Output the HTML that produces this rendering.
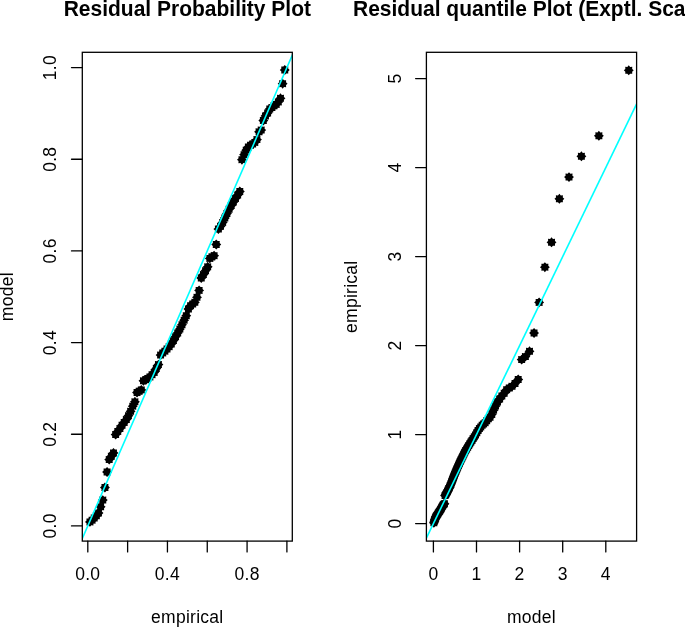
<!DOCTYPE html>
<html><head><meta charset="utf-8"><title>Residual plots</title>
<style>
html,body{margin:0;padding:0;background:#fff;}
body{width:685px;height:627px;overflow:hidden;}
svg{display:block;}
text{font-family:"Liberation Sans",sans-serif;fill:#000;}
.t{font-size:21px;font-weight:bold;text-anchor:middle;}
.a{font-size:17.5px;text-anchor:middle;letter-spacing:0.27px;}
.ax{stroke:#000;stroke-width:1.3;fill:none;stroke-linecap:round;}
.cy{stroke:#00ffff;stroke-width:1.6;fill:none;}
</style></head><body>
<svg width="685" height="627" viewBox="0 0 685 627">
<rect x="0" y="0" width="685" height="627" fill="#fff"/>

<text class="t" transform="translate(187.3,15.6) scale(1,1.075)">Residual Probability Plot</text>
<g fill="#000">
<polygon points="89.94,516.95 91.36,518.48 93.44,518.40 93.36,520.48 94.89,521.90 93.36,523.32 93.44,525.40 91.36,525.32 89.94,526.85 88.52,525.32 86.44,525.40 86.52,523.32 84.99,521.90 86.52,520.48 86.44,518.40 88.52,518.48"/>
<polygon points="92.08,515.25 93.50,516.78 95.58,516.70 95.50,518.78 97.03,520.20 95.50,521.62 95.58,523.70 93.50,523.62 92.08,525.15 90.67,523.62 88.58,523.70 88.66,521.62 87.13,520.20 88.66,518.78 88.58,516.70 90.67,516.78"/>
<polygon points="94.22,513.05 95.64,514.58 97.72,514.50 97.64,516.58 99.17,518.00 97.64,519.42 97.72,521.50 95.64,521.42 94.22,522.95 92.81,521.42 90.72,521.50 90.80,519.42 89.27,518.00 90.80,516.58 90.72,514.50 92.81,514.58"/>
<polygon points="96.36,510.85 97.78,512.38 99.86,512.30 99.78,514.38 101.31,515.80 99.78,517.22 99.86,519.30 97.78,519.22 96.36,520.75 94.95,519.22 92.86,519.30 92.95,517.22 91.41,515.80 92.95,514.38 92.86,512.30 94.95,512.38"/>
<polygon points="98.50,508.05 99.92,509.58 102.00,509.50 101.92,511.58 103.45,513.00 101.92,514.42 102.00,516.50 99.92,516.42 98.50,517.95 97.09,516.42 95.00,516.50 95.09,514.42 93.55,513.00 95.09,511.58 95.00,509.50 97.09,509.58"/>
<polygon points="100.65,501.85 102.06,503.38 104.15,503.30 104.06,505.38 105.60,506.80 104.06,508.22 104.15,510.30 102.06,510.22 100.65,511.75 99.23,510.22 97.14,510.30 97.23,508.22 95.70,506.80 97.23,505.38 97.14,503.30 99.23,503.38"/>
<polygon points="102.79,495.15 104.20,496.68 106.29,496.60 106.20,498.68 107.74,500.10 106.20,501.52 106.29,503.60 104.20,503.52 102.79,505.05 101.37,503.52 99.29,503.60 99.37,501.52 97.84,500.10 99.37,498.68 99.29,496.60 101.37,496.68"/>
<polygon points="104.93,482.55 106.34,484.08 108.43,484.00 108.35,486.08 109.88,487.50 108.35,488.92 108.43,491.00 106.34,490.92 104.93,492.45 103.51,490.92 101.43,491.00 101.51,488.92 99.98,487.50 101.51,486.08 101.43,484.00 103.51,484.08"/>
<polygon points="107.07,467.05 108.48,468.58 110.57,468.50 110.49,470.58 112.02,472.00 110.49,473.42 110.57,475.50 108.48,475.42 107.07,476.95 105.65,475.42 103.57,475.50 103.65,473.42 102.12,472.00 103.65,470.58 103.57,468.50 105.65,468.58"/>
<polygon points="109.21,454.65 110.62,456.18 112.71,456.10 112.63,458.18 114.16,459.60 112.63,461.02 112.71,463.10 110.62,463.02 109.21,464.55 107.79,463.02 105.71,463.10 105.79,461.02 104.26,459.60 105.79,458.18 105.71,456.10 107.79,456.18"/>
<polygon points="111.35,451.35 112.77,452.88 114.85,452.80 114.77,454.88 116.30,456.30 114.77,457.72 114.85,459.80 112.77,459.72 111.35,461.25 109.93,459.72 107.85,459.80 107.93,457.72 106.40,456.30 107.93,454.88 107.85,452.80 109.93,452.88"/>
<polygon points="113.49,447.95 114.91,449.48 116.99,449.40 116.91,451.48 118.44,452.90 116.91,454.32 116.99,456.40 114.91,456.32 113.49,457.85 112.07,456.32 109.99,456.40 110.07,454.32 108.54,452.90 110.07,451.48 109.99,449.40 112.07,449.48"/>
<polygon points="115.63,429.65 117.05,431.18 119.13,431.10 119.05,433.18 120.58,434.60 119.05,436.02 119.13,438.10 117.05,438.02 115.63,439.55 114.22,438.02 112.13,438.10 112.21,436.02 110.68,434.60 112.21,433.18 112.13,431.10 114.22,431.18"/>
<polygon points="117.77,426.45 119.19,427.98 121.27,427.90 121.19,429.98 122.72,431.40 121.19,432.82 121.27,434.90 119.19,434.82 117.77,436.35 116.36,434.82 114.27,434.90 114.35,432.82 112.82,431.40 114.35,429.98 114.27,427.90 116.36,427.98"/>
<polygon points="119.91,423.65 121.33,425.18 123.41,425.10 123.33,427.18 124.86,428.60 123.33,430.02 123.41,432.10 121.33,432.02 119.91,433.55 118.50,432.02 116.41,432.10 116.49,430.02 114.96,428.60 116.49,427.18 116.41,425.10 118.50,425.18"/>
<polygon points="122.05,420.25 123.47,421.78 125.55,421.70 125.47,423.78 127.00,425.20 125.47,426.62 125.55,428.70 123.47,428.62 122.05,430.15 120.64,428.62 118.55,428.70 118.64,426.62 117.10,425.20 118.64,423.78 118.55,421.70 120.64,421.78"/>
<polygon points="124.19,417.45 125.61,418.98 127.69,418.90 127.61,420.98 129.14,422.40 127.61,423.82 127.69,425.90 125.61,425.82 124.19,427.35 122.78,425.82 120.69,425.90 120.78,423.82 119.24,422.40 120.78,420.98 120.69,418.90 122.78,418.98"/>
<polygon points="126.34,414.65 127.75,416.18 129.84,416.10 129.75,418.18 131.29,419.60 129.75,421.02 129.84,423.10 127.75,423.02 126.34,424.55 124.92,423.02 122.84,423.10 122.92,421.02 121.39,419.60 122.92,418.18 122.84,416.10 124.92,416.18"/>
<polygon points="128.48,410.75 129.89,412.28 131.98,412.20 131.89,414.28 133.43,415.70 131.89,417.12 131.98,419.20 129.89,419.12 128.48,420.65 127.06,419.12 124.98,419.20 125.06,417.12 123.53,415.70 125.06,414.28 124.98,412.20 127.06,412.28"/>
<polygon points="130.62,406.35 132.03,407.88 134.12,407.80 134.04,409.88 135.57,411.30 134.04,412.72 134.12,414.80 132.03,414.72 130.62,416.25 129.20,414.72 127.12,414.80 127.20,412.72 125.67,411.30 127.20,409.88 127.12,407.80 129.20,407.88"/>
<polygon points="132.76,401.25 134.17,402.78 136.26,402.70 136.18,404.78 137.71,406.20 136.18,407.62 136.26,409.70 134.17,409.62 132.76,411.15 131.34,409.62 129.26,409.70 129.34,407.62 127.81,406.20 129.34,404.78 129.26,402.70 131.34,402.78"/>
<polygon points="134.90,396.85 136.31,398.38 138.40,398.30 138.32,400.38 139.85,401.80 138.32,403.22 138.40,405.30 136.31,405.22 134.90,406.75 133.48,405.22 131.40,405.30 131.48,403.22 129.95,401.80 131.48,400.38 131.40,398.30 133.48,398.38"/>
<polygon points="137.04,387.55 138.46,389.08 140.54,389.00 140.46,391.08 141.99,392.50 140.46,393.92 140.54,396.00 138.46,395.92 137.04,397.45 135.62,395.92 133.54,396.00 133.62,393.92 132.09,392.50 133.62,391.08 133.54,389.00 135.62,389.08"/>
<polygon points="139.18,386.25 140.60,387.78 142.68,387.70 142.60,389.78 144.13,391.20 142.60,392.62 142.68,394.70 140.60,394.62 139.18,396.15 137.76,394.62 135.68,394.70 135.76,392.62 134.23,391.20 135.76,389.78 135.68,387.70 137.76,387.78"/>
<polygon points="141.32,384.95 142.74,386.48 144.82,386.40 144.74,388.48 146.27,389.90 144.74,391.32 144.82,393.40 142.74,393.32 141.32,394.85 139.91,393.32 137.82,393.40 137.90,391.32 136.37,389.90 137.90,388.48 137.82,386.40 139.91,386.48"/>
<polygon points="143.46,375.85 144.88,377.38 146.96,377.30 146.88,379.38 148.41,380.80 146.88,382.22 146.96,384.30 144.88,384.22 143.46,385.75 142.05,384.22 139.96,384.30 140.04,382.22 138.51,380.80 140.04,379.38 139.96,377.30 142.05,377.38"/>
<polygon points="145.60,374.75 147.02,376.28 149.10,376.20 149.02,378.28 150.55,379.70 149.02,381.12 149.10,383.20 147.02,383.12 145.60,384.65 144.19,383.12 142.10,383.20 142.18,381.12 140.65,379.70 142.18,378.28 142.10,376.20 144.19,376.28"/>
<polygon points="147.74,373.65 149.16,375.18 151.24,375.10 151.16,377.18 152.69,378.60 151.16,380.02 151.24,382.10 149.16,382.02 147.74,383.55 146.33,382.02 144.24,382.10 144.33,380.02 142.79,378.60 144.33,377.18 144.24,375.10 146.33,375.18"/>
<polygon points="149.88,371.95 151.30,373.48 153.39,373.40 153.30,375.48 154.83,376.90 153.30,378.32 153.39,380.40 151.30,380.32 149.88,381.85 148.47,380.32 146.38,380.40 146.47,378.32 144.93,376.90 146.47,375.48 146.38,373.40 148.47,373.48"/>
<polygon points="152.03,369.75 153.44,371.28 155.53,371.20 155.44,373.28 156.98,374.70 155.44,376.12 155.53,378.20 153.44,378.12 152.03,379.65 150.61,378.12 148.53,378.20 148.61,376.12 147.08,374.70 148.61,373.28 148.53,371.20 150.61,371.28"/>
<polygon points="154.17,367.45 155.58,368.98 157.67,368.90 157.59,370.98 159.12,372.40 157.59,373.82 157.67,375.90 155.58,375.82 154.17,377.35 152.75,375.82 150.67,375.90 150.75,373.82 149.22,372.40 150.75,370.98 150.67,368.90 152.75,368.98"/>
<polygon points="156.31,363.55 157.72,365.08 159.81,365.00 159.73,367.08 161.26,368.50 159.73,369.92 159.81,372.00 157.72,371.92 156.31,373.45 154.89,371.92 152.81,372.00 152.89,369.92 151.36,368.50 152.89,367.08 152.81,365.00 154.89,365.08"/>
<polygon points="158.45,359.65 159.86,361.18 161.95,361.10 161.87,363.18 163.40,364.60 161.87,366.02 161.95,368.10 159.86,368.02 158.45,369.55 157.03,368.02 154.95,368.10 155.03,366.02 153.50,364.60 155.03,363.18 154.95,361.10 157.03,361.18"/>
<polygon points="160.59,350.15 162.01,351.68 164.09,351.60 164.01,353.68 165.54,355.10 164.01,356.52 164.09,358.60 162.01,358.52 160.59,360.05 159.17,358.52 157.09,358.60 157.17,356.52 155.64,355.10 157.17,353.68 157.09,351.60 159.17,351.68"/>
<polygon points="162.73,347.95 164.15,349.48 166.23,349.40 166.15,351.48 167.68,352.90 166.15,354.32 166.23,356.40 164.15,356.32 162.73,357.85 161.31,356.32 159.23,356.40 159.31,354.32 157.78,352.90 159.31,351.48 159.23,349.40 161.31,349.48"/>
<polygon points="164.87,346.25 166.29,347.78 168.37,347.70 168.29,349.78 169.82,351.20 168.29,352.62 168.37,354.70 166.29,354.62 164.87,356.15 163.46,354.62 161.37,354.70 161.45,352.62 159.92,351.20 161.45,349.78 161.37,347.70 163.46,347.78"/>
<polygon points="167.01,344.05 168.43,345.58 170.51,345.50 170.43,347.58 171.96,349.00 170.43,350.42 170.51,352.50 168.43,352.42 167.01,353.95 165.60,352.42 163.51,352.50 163.59,350.42 162.06,349.00 163.59,347.58 163.51,345.50 165.60,345.58"/>
<polygon points="169.15,341.75 170.57,343.28 172.65,343.20 172.57,345.28 174.10,346.70 172.57,348.12 172.65,350.20 170.57,350.12 169.15,351.65 167.74,350.12 165.65,350.20 165.73,348.12 164.20,346.70 165.73,345.28 165.65,343.20 167.74,343.28"/>
<polygon points="171.29,339.05 172.71,340.58 174.79,340.50 174.71,342.58 176.24,344.00 174.71,345.42 174.79,347.50 172.71,347.42 171.29,348.95 169.88,347.42 167.79,347.50 167.88,345.42 166.34,344.00 167.88,342.58 167.79,340.50 169.88,340.58"/>
<polygon points="173.43,335.65 174.85,337.18 176.93,337.10 176.85,339.18 178.38,340.60 176.85,342.02 176.93,344.10 174.85,344.02 173.43,345.55 172.02,344.02 169.93,344.10 170.02,342.02 168.48,340.60 170.02,339.18 169.93,337.10 172.02,337.18"/>
<polygon points="175.58,331.75 176.99,333.28 179.08,333.20 178.99,335.28 180.53,336.70 178.99,338.12 179.08,340.20 176.99,340.12 175.58,341.65 174.16,340.12 172.08,340.20 172.16,338.12 170.63,336.70 172.16,335.28 172.08,333.20 174.16,333.28"/>
<polygon points="177.72,327.95 179.13,329.48 181.22,329.40 181.13,331.48 182.67,332.90 181.13,334.32 181.22,336.40 179.13,336.32 177.72,337.85 176.30,336.32 174.22,336.40 174.30,334.32 172.77,332.90 174.30,331.48 174.22,329.40 176.30,329.48"/>
<polygon points="179.86,324.15 181.27,325.68 183.36,325.60 183.28,327.68 184.81,329.10 183.28,330.52 183.36,332.60 181.27,332.52 179.86,334.05 178.44,332.52 176.36,332.60 176.44,330.52 174.91,329.10 176.44,327.68 176.36,325.60 178.44,325.68"/>
<polygon points="182.00,319.75 183.41,321.28 185.50,321.20 185.42,323.28 186.95,324.70 185.42,326.12 185.50,328.20 183.41,328.12 182.00,329.65 180.58,328.12 178.50,328.20 178.58,326.12 177.05,324.70 178.58,323.28 178.50,321.20 180.58,321.28"/>
<polygon points="184.14,315.25 185.55,316.78 187.64,316.70 187.56,318.78 189.09,320.20 187.56,321.62 187.64,323.70 185.55,323.62 184.14,325.15 182.72,323.62 180.64,323.70 180.72,321.62 179.19,320.20 180.72,318.78 180.64,316.70 182.72,316.78"/>
<polygon points="186.28,310.75 187.70,312.28 189.78,312.20 189.70,314.28 191.23,315.70 189.70,317.12 189.78,319.20 187.70,319.12 186.28,320.65 184.86,319.12 182.78,319.20 182.86,317.12 181.33,315.70 182.86,314.28 182.78,312.20 184.86,312.28"/>
<polygon points="188.42,304.05 189.84,305.58 191.92,305.50 191.84,307.58 193.37,309.00 191.84,310.42 191.92,312.50 189.84,312.42 188.42,313.95 187.00,312.42 184.92,312.50 185.00,310.42 183.47,309.00 185.00,307.58 184.92,305.50 187.00,305.58"/>
<polygon points="190.56,300.75 191.98,302.28 194.06,302.20 193.98,304.28 195.51,305.70 193.98,307.12 194.06,309.20 191.98,309.12 190.56,310.65 189.15,309.12 187.06,309.20 187.14,307.12 185.61,305.70 187.14,304.28 187.06,302.20 189.15,302.28"/>
<polygon points="192.70,299.05 194.12,300.58 196.20,300.50 196.12,302.58 197.65,304.00 196.12,305.42 196.20,307.50 194.12,307.42 192.70,308.95 191.29,307.42 189.20,307.50 189.28,305.42 187.75,304.00 189.28,302.58 189.20,300.50 191.29,300.58"/>
<polygon points="194.84,297.35 196.26,298.88 198.34,298.80 198.26,300.88 199.79,302.30 198.26,303.72 198.34,305.80 196.26,305.72 194.84,307.25 193.43,305.72 191.34,305.80 191.42,303.72 189.89,302.30 191.42,300.88 191.34,298.80 193.43,298.88"/>
<polygon points="196.98,292.35 198.40,293.88 200.48,293.80 200.40,295.88 201.93,297.30 200.40,298.72 200.48,300.80 198.40,300.72 196.98,302.25 195.57,300.72 193.48,300.80 193.57,298.72 192.03,297.30 193.57,295.88 193.48,293.80 195.57,293.88"/>
<polygon points="199.12,285.45 200.54,286.98 202.62,286.90 202.54,288.98 204.07,290.40 202.54,291.82 202.62,293.90 200.54,293.82 199.12,295.35 197.71,293.82 195.62,293.90 195.71,291.82 194.17,290.40 195.71,288.98 195.62,286.90 197.71,286.98"/>
<polygon points="201.27,273.05 202.68,274.58 204.77,274.50 204.68,276.58 206.22,278.00 204.68,279.42 204.77,281.50 202.68,281.42 201.27,282.95 199.85,281.42 197.77,281.50 197.85,279.42 196.32,278.00 197.85,276.58 197.77,274.50 199.85,274.58"/>
<polygon points="203.41,269.65 204.82,271.18 206.91,271.10 206.82,273.18 208.36,274.60 206.82,276.02 206.91,278.10 204.82,278.02 203.41,279.55 201.99,278.02 199.91,278.10 199.99,276.02 198.46,274.60 199.99,273.18 199.91,271.10 201.99,271.18"/>
<polygon points="205.55,265.75 206.96,267.28 209.05,267.20 208.97,269.28 210.50,270.70 208.97,272.12 209.05,274.20 206.96,274.12 205.55,275.65 204.13,274.12 202.05,274.20 202.13,272.12 200.60,270.70 202.13,269.28 202.05,267.20 204.13,267.28"/>
<polygon points="207.69,261.85 209.10,263.38 211.19,263.30 211.11,265.38 212.64,266.80 211.11,268.22 211.19,270.30 209.10,270.22 207.69,271.75 206.27,270.22 204.19,270.30 204.27,268.22 202.74,266.80 204.27,265.38 204.19,263.30 206.27,263.38"/>
<polygon points="209.83,253.45 211.24,254.98 213.33,254.90 213.25,256.98 214.78,258.40 213.25,259.82 213.33,261.90 211.24,261.82 209.83,263.35 208.41,261.82 206.33,261.90 206.41,259.82 204.88,258.40 206.41,256.98 206.33,254.90 208.41,254.98"/>
<polygon points="211.97,251.85 213.39,253.38 215.47,253.30 215.39,255.38 216.92,256.80 215.39,258.22 215.47,260.30 213.39,260.22 211.97,261.75 210.55,260.22 208.47,260.30 208.55,258.22 207.02,256.80 208.55,255.38 208.47,253.30 210.55,253.38"/>
<polygon points="214.11,250.75 215.53,252.28 217.61,252.20 217.53,254.28 219.06,255.70 217.53,257.12 217.61,259.20 215.53,259.12 214.11,260.65 212.69,259.12 210.61,259.20 210.69,257.12 209.16,255.70 210.69,254.28 210.61,252.20 212.69,252.28"/>
<polygon points="216.25,239.55 217.67,241.08 219.75,241.00 219.67,243.08 221.20,244.50 219.67,245.92 219.75,248.00 217.67,247.92 216.25,249.45 214.84,247.92 212.75,248.00 212.83,245.92 211.30,244.50 212.83,243.08 212.75,241.00 214.84,241.08"/>
<polygon points="218.39,224.15 219.81,225.68 221.89,225.60 221.81,227.68 223.34,229.10 221.81,230.52 221.89,232.60 219.81,232.52 218.39,234.05 216.98,232.52 214.89,232.60 214.97,230.52 213.44,229.10 214.97,227.68 214.89,225.60 216.98,225.68"/>
<polygon points="220.53,221.35 221.95,222.88 224.03,222.80 223.95,224.88 225.48,226.30 223.95,227.72 224.03,229.80 221.95,229.72 220.53,231.25 219.12,229.72 217.03,229.80 217.11,227.72 215.58,226.30 217.11,224.88 217.03,222.80 219.12,222.88"/>
<polygon points="222.67,217.45 224.09,218.98 226.17,218.90 226.09,220.98 227.62,222.40 226.09,223.82 226.17,225.90 224.09,225.82 222.67,227.35 221.26,225.82 219.17,225.90 219.26,223.82 217.72,222.40 219.26,220.98 219.17,218.90 221.26,218.98"/>
<polygon points="224.82,213.05 226.23,214.58 228.32,214.50 228.23,216.58 229.77,218.00 228.23,219.42 228.32,221.50 226.23,221.42 224.82,222.95 223.40,221.42 221.31,221.50 221.40,219.42 219.87,218.00 221.40,216.58 221.31,214.50 223.40,214.58"/>
<polygon points="226.96,208.55 228.37,210.08 230.46,210.00 230.37,212.08 231.91,213.50 230.37,214.92 230.46,217.00 228.37,216.92 226.96,218.45 225.54,216.92 223.46,217.00 223.54,214.92 222.01,213.50 223.54,212.08 223.46,210.00 225.54,210.08"/>
<polygon points="229.10,204.35 230.51,205.88 232.60,205.80 232.52,207.88 234.05,209.30 232.52,210.72 232.60,212.80 230.51,212.72 229.10,214.25 227.68,212.72 225.60,212.80 225.68,210.72 224.15,209.30 225.68,207.88 225.60,205.80 227.68,205.88"/>
<polygon points="231.24,200.55 232.65,202.08 234.74,202.00 234.66,204.08 236.19,205.50 234.66,206.92 234.74,209.00 232.65,208.92 231.24,210.45 229.82,208.92 227.74,209.00 227.82,206.92 226.29,205.50 227.82,204.08 227.74,202.00 229.82,202.08"/>
<polygon points="233.38,197.05 234.79,198.58 236.88,198.50 236.80,200.58 238.33,202.00 236.80,203.42 236.88,205.50 234.79,205.42 233.38,206.95 231.96,205.42 229.88,205.50 229.96,203.42 228.43,202.00 229.96,200.58 229.88,198.50 231.96,198.58"/>
<polygon points="235.52,193.45 236.94,194.98 239.02,194.90 238.94,196.98 240.47,198.40 238.94,199.82 239.02,201.90 236.94,201.82 235.52,203.35 234.10,201.82 232.02,201.90 232.10,199.82 230.57,198.40 232.10,196.98 232.02,194.90 234.10,194.98"/>
<polygon points="237.66,190.15 239.08,191.68 241.16,191.60 241.08,193.68 242.61,195.10 241.08,196.52 241.16,198.60 239.08,198.52 237.66,200.05 236.24,198.52 234.16,198.60 234.24,196.52 232.71,195.10 234.24,193.68 234.16,191.60 236.24,191.68"/>
<polygon points="239.80,186.55 241.22,188.08 243.30,188.00 243.22,190.08 244.75,191.50 243.22,192.92 243.30,195.00 241.22,194.92 239.80,196.45 238.39,194.92 236.30,195.00 236.38,192.92 234.85,191.50 236.38,190.08 236.30,188.00 238.39,188.08"/>
<polygon points="241.94,154.75 243.36,156.28 245.44,156.20 245.36,158.28 246.89,159.70 245.36,161.12 245.44,163.20 243.36,163.12 241.94,164.65 240.53,163.12 238.44,163.20 238.52,161.12 236.99,159.70 238.52,158.28 238.44,156.20 240.53,156.28"/>
<polygon points="244.08,149.75 245.50,151.28 247.58,151.20 247.50,153.28 249.03,154.70 247.50,156.12 247.58,158.20 245.50,158.12 244.08,159.65 242.67,158.12 240.58,158.20 240.66,156.12 239.13,154.70 240.66,153.28 240.58,151.20 242.67,151.28"/>
<polygon points="246.22,145.25 247.64,146.78 249.72,146.70 249.64,148.78 251.17,150.20 249.64,151.62 249.72,153.70 247.64,153.62 246.22,155.15 244.81,153.62 242.72,153.70 242.81,151.62 241.27,150.20 242.81,148.78 242.72,146.70 244.81,146.78"/>
<polygon points="248.36,141.95 249.78,143.48 251.86,143.40 251.78,145.48 253.31,146.90 251.78,148.32 251.86,150.40 249.78,150.32 248.36,151.85 246.95,150.32 244.86,150.40 244.95,148.32 243.41,146.90 244.95,145.48 244.86,143.40 246.95,143.48"/>
<polygon points="250.51,140.25 251.92,141.78 254.01,141.70 253.92,143.78 255.46,145.20 253.92,146.62 254.01,148.70 251.92,148.62 250.51,150.15 249.09,148.62 247.01,148.70 247.09,146.62 245.56,145.20 247.09,143.78 247.01,141.70 249.09,141.78"/>
<polygon points="252.65,139.15 254.06,140.68 256.15,140.60 256.06,142.68 257.60,144.10 256.06,145.52 256.15,147.60 254.06,147.52 252.65,149.05 251.23,147.52 249.15,147.60 249.23,145.52 247.70,144.10 249.23,142.68 249.15,140.60 251.23,140.68"/>
<polygon points="254.79,137.45 256.20,138.98 258.29,138.90 258.21,140.98 259.74,142.40 258.21,143.82 258.29,145.90 256.20,145.82 254.79,147.35 253.37,145.82 251.29,145.90 251.37,143.82 249.84,142.40 251.37,140.98 251.29,138.90 253.37,138.98"/>
<polygon points="256.93,134.65 258.34,136.18 260.43,136.10 260.35,138.18 261.88,139.60 260.35,141.02 260.43,143.10 258.34,143.02 256.93,144.55 255.51,143.02 253.43,143.10 253.51,141.02 251.98,139.60 253.51,138.18 253.43,136.10 255.51,136.18"/>
<polygon points="259.07,126.85 260.48,128.38 262.57,128.30 262.49,130.38 264.02,131.80 262.49,133.22 262.57,135.30 260.48,135.22 259.07,136.75 257.65,135.22 255.57,135.30 255.65,133.22 254.12,131.80 255.65,130.38 255.57,128.30 257.65,128.38"/>
<polygon points="261.21,125.15 262.63,126.68 264.71,126.60 264.63,128.68 266.16,130.10 264.63,131.52 264.71,133.60 262.63,133.52 261.21,135.05 259.79,133.52 257.71,133.60 257.79,131.52 256.26,130.10 257.79,128.68 257.71,126.60 259.79,126.68"/>
<polygon points="263.35,115.55 264.77,117.08 266.85,117.00 266.77,119.08 268.30,120.50 266.77,121.92 266.85,124.00 264.77,123.92 263.35,125.45 261.93,123.92 259.85,124.00 259.93,121.92 258.40,120.50 259.93,119.08 259.85,117.00 261.93,117.08"/>
<polygon points="265.49,110.95 266.91,112.48 268.99,112.40 268.91,114.48 270.44,115.90 268.91,117.32 268.99,119.40 266.91,119.32 265.49,120.85 264.08,119.32 261.99,119.40 262.07,117.32 260.54,115.90 262.07,114.48 261.99,112.40 264.08,112.48"/>
<polygon points="267.63,108.05 269.05,109.58 271.13,109.50 271.05,111.58 272.58,113.00 271.05,114.42 271.13,116.50 269.05,116.42 267.63,117.95 266.22,116.42 264.13,116.50 264.21,114.42 262.68,113.00 264.21,111.58 264.13,109.50 266.22,109.58"/>
<polygon points="269.77,104.05 271.19,105.58 273.27,105.50 273.19,107.58 274.72,109.00 273.19,110.42 273.27,112.50 271.19,112.42 269.77,113.95 268.36,112.42 266.27,112.50 266.35,110.42 264.82,109.00 266.35,107.58 266.27,105.50 268.36,105.58"/>
<polygon points="271.91,102.65 273.33,104.18 275.41,104.10 275.33,106.18 276.86,107.60 275.33,109.02 275.41,111.10 273.33,111.02 271.91,112.55 270.50,111.02 268.41,111.10 268.50,109.02 266.96,107.60 268.50,106.18 268.41,104.10 270.50,104.18"/>
<polygon points="274.05,100.85 275.47,102.38 277.56,102.30 277.47,104.38 279.00,105.80 277.47,107.22 277.56,109.30 275.47,109.22 274.05,110.75 272.64,109.22 270.55,109.30 270.64,107.22 269.10,105.80 270.64,104.38 270.55,102.30 272.64,102.38"/>
<polygon points="276.20,99.45 277.61,100.98 279.70,100.90 279.61,102.98 281.15,104.40 279.61,105.82 279.70,107.90 277.61,107.82 276.20,109.35 274.78,107.82 272.70,107.90 272.78,105.82 271.25,104.40 272.78,102.98 272.70,100.90 274.78,100.98"/>
<polygon points="278.34,96.95 279.75,98.48 281.84,98.40 281.75,100.48 283.29,101.90 281.75,103.32 281.84,105.40 279.75,105.32 278.34,106.85 276.92,105.32 274.84,105.40 274.92,103.32 273.39,101.90 274.92,100.48 274.84,98.40 276.92,98.48"/>
<polygon points="280.48,93.35 281.89,94.88 283.98,94.80 283.90,96.88 285.43,98.30 283.90,99.72 283.98,101.80 281.89,101.72 280.48,103.25 279.06,101.72 276.98,101.80 277.06,99.72 275.53,98.30 277.06,96.88 276.98,94.80 279.06,94.88"/>
<polygon points="282.62,78.75 284.03,80.28 286.12,80.20 286.04,82.28 287.57,83.70 286.04,85.12 286.12,87.20 284.03,87.12 282.62,88.65 281.20,87.12 279.12,87.20 279.20,85.12 277.67,83.70 279.20,82.28 279.12,80.20 281.20,80.28"/>
<polygon points="284.76,65.05 286.18,66.58 288.26,66.50 288.18,68.58 289.71,70.00 288.18,71.42 288.26,73.50 286.18,73.42 284.76,74.95 283.34,73.42 281.26,73.50 281.34,71.42 279.81,70.00 281.34,68.58 281.26,66.50 283.34,66.58"/>
</g>
<clipPath id="cl"><rect x="82.3" y="52.3" width="210.0" height="488.8"/></clipPath>
<line class="cy" clip-path="url(#cl)" x1="67.89" y1="571.73" x2="306.81" y2="21.77"/>
<rect class="ax" x="82.3" y="52.3" width="210.0" height="488.8"/>
<line class="ax" x1="87.80" y1="541.1" x2="87.80" y2="551.9"/>
<text class="a" x="87.80" y="580.4">0.0</text>
<line class="ax" x1="127.62" y1="541.1" x2="127.62" y2="551.9"/>
<line class="ax" x1="167.44" y1="541.1" x2="167.44" y2="551.9"/>
<text class="a" x="167.44" y="580.4">0.4</text>
<line class="ax" x1="207.26" y1="541.1" x2="207.26" y2="551.9"/>
<line class="ax" x1="247.08" y1="541.1" x2="247.08" y2="551.9"/>
<text class="a" x="247.08" y="580.4">0.8</text>
<line class="ax" x1="286.90" y1="541.1" x2="286.90" y2="551.9"/>
<line class="ax" x1="82.3" y1="525.90" x2="71.5" y2="525.90"/>
<text class="a" transform="translate(56.4,525.90) rotate(-90)">0.0</text>
<line class="ax" x1="82.3" y1="434.24" x2="71.5" y2="434.24"/>
<text class="a" transform="translate(56.4,434.24) rotate(-90)">0.2</text>
<line class="ax" x1="82.3" y1="342.58" x2="71.5" y2="342.58"/>
<text class="a" transform="translate(56.4,342.58) rotate(-90)">0.4</text>
<line class="ax" x1="82.3" y1="250.92" x2="71.5" y2="250.92"/>
<text class="a" transform="translate(56.4,250.92) rotate(-90)">0.6</text>
<line class="ax" x1="82.3" y1="159.26" x2="71.5" y2="159.26"/>
<text class="a" transform="translate(56.4,159.26) rotate(-90)">0.8</text>
<line class="ax" x1="82.3" y1="67.60" x2="71.5" y2="67.60"/>
<text class="a" transform="translate(56.4,67.60) rotate(-90)">1.0</text>
<text class="a" x="187.3" y="622.9">empirical</text>
<text class="a" transform="translate(13.1,296.7) rotate(-90)">model</text>
<text class="t" transform="translate(531.5,15.6) scale(1,1.075)">Residual quantile Plot (Exptl. Scale)</text>
<g fill="#000">
<polygon points="433.87,517.85 435.28,519.38 437.37,519.30 437.28,521.38 438.82,522.80 437.28,524.21 437.37,526.30 435.28,526.22 433.87,527.75 432.45,526.22 430.37,526.30 430.45,524.21 428.92,522.80 430.45,521.38 430.37,519.30 432.45,519.38"/>
<polygon points="434.34,516.33 435.75,517.87 437.84,517.78 437.76,519.87 439.29,521.28 437.76,522.70 437.84,524.78 435.75,524.70 434.34,526.23 432.92,524.70 430.84,524.78 430.92,522.70 429.39,521.28 430.92,519.87 430.84,517.78 432.92,517.87"/>
<polygon points="434.81,514.80 436.23,516.34 438.31,516.25 438.23,518.34 439.76,519.75 438.23,521.17 438.31,523.25 436.23,523.17 434.81,524.70 433.40,523.17 431.31,523.25 431.39,521.17 429.86,519.75 431.39,518.34 431.31,516.25 433.40,516.34"/>
<polygon points="435.29,513.26 436.71,514.79 438.79,514.71 438.71,516.79 440.24,518.21 438.71,519.62 438.79,521.71 436.71,521.62 435.29,523.16 433.88,521.62 431.79,521.71 431.88,519.62 430.34,518.21 431.88,516.79 431.79,514.71 433.88,514.79"/>
<polygon points="435.78,512.07 437.20,513.60 439.28,513.52 439.20,515.60 440.73,517.02 439.20,518.43 439.28,520.52 437.20,520.44 435.78,521.97 434.37,520.44 432.28,520.52 432.36,518.43 430.83,517.02 432.36,515.60 432.28,513.52 434.37,513.60"/>
<polygon points="436.27,511.31 437.69,512.84 439.77,512.76 439.69,514.84 441.22,516.26 439.69,517.67 439.77,519.76 437.69,519.67 436.27,521.21 434.86,519.67 432.77,519.76 432.86,517.67 431.32,516.26 432.86,514.84 432.77,512.76 434.86,512.84"/>
<polygon points="436.77,510.53 438.19,512.07 440.27,511.98 440.19,514.07 441.72,515.48 440.19,516.90 440.27,518.98 438.19,518.90 436.77,520.43 435.36,518.90 433.27,518.98 433.35,516.90 431.82,515.48 433.35,514.07 433.27,511.98 435.36,512.07"/>
<polygon points="437.28,509.75 438.69,511.29 440.78,511.20 440.70,513.29 442.23,514.70 440.70,516.12 440.78,518.20 438.69,518.12 437.28,519.65 435.86,518.12 433.78,518.20 433.86,516.12 432.33,514.70 433.86,513.29 433.78,511.20 435.86,511.29"/>
<polygon points="437.79,508.96 439.20,510.50 441.29,510.41 441.21,512.50 442.74,513.91 441.21,515.33 441.29,517.41 439.20,517.33 437.79,518.86 436.37,517.33 434.29,517.41 434.37,515.33 432.84,513.91 434.37,512.50 434.29,510.41 436.37,510.50"/>
<polygon points="438.30,508.16 439.72,509.70 441.80,509.61 441.72,511.70 443.25,513.11 441.72,514.53 441.80,516.61 439.72,516.53 438.30,518.06 436.89,516.53 434.80,516.61 434.88,514.53 433.35,513.11 434.88,511.70 434.80,509.61 436.89,509.70"/>
<polygon points="438.83,507.35 440.24,508.89 442.33,508.80 442.24,510.89 443.78,512.30 442.24,513.72 442.33,515.81 440.24,515.72 438.83,517.25 437.41,515.72 435.33,515.81 435.41,513.72 433.88,512.30 435.41,510.89 435.33,508.80 437.41,508.89"/>
<polygon points="439.35,506.54 440.77,508.07 442.85,507.99 442.77,510.07 444.30,511.49 442.77,512.90 442.85,514.99 440.77,514.90 439.35,516.44 437.94,514.90 435.85,514.99 435.94,512.90 434.40,511.49 435.94,510.07 435.85,507.99 437.94,508.07"/>
<polygon points="439.89,505.71 441.31,507.24 443.39,507.16 443.31,509.24 444.84,510.66 443.31,512.07 443.39,514.16 441.31,514.08 439.89,515.61 438.47,514.08 436.39,514.16 436.47,512.07 434.94,510.66 436.47,509.24 436.39,507.16 438.47,507.24"/>
<polygon points="440.43,504.87 441.85,506.40 443.93,506.32 443.85,508.40 445.38,509.82 443.85,511.23 443.93,513.32 441.85,513.24 440.43,514.77 439.02,513.24 436.93,513.32 437.01,511.23 435.48,509.82 437.01,508.40 436.93,506.32 439.02,506.40"/>
<polygon points="440.98,503.99 442.40,505.52 444.48,505.44 444.40,507.52 445.93,508.94 444.40,510.35 444.48,512.44 442.40,512.36 440.98,513.89 439.56,512.36 437.48,512.44 437.56,510.35 436.03,508.94 437.56,507.52 437.48,505.44 439.56,505.52"/>
<polygon points="441.54,502.93 442.95,504.46 445.04,504.38 444.96,506.46 446.49,507.88 444.96,509.30 445.04,511.38 442.95,511.30 441.54,512.83 440.12,511.30 438.04,511.38 438.12,509.30 436.59,507.88 438.12,506.46 438.04,504.38 440.12,504.46"/>
<polygon points="442.10,501.86 443.52,503.39 445.60,503.31 445.52,505.39 447.05,506.81 445.52,508.22 445.60,510.31 443.52,510.23 442.10,511.76 440.68,510.23 438.60,510.31 438.68,508.22 437.15,506.81 438.68,505.39 438.60,503.31 440.68,503.39"/>
<polygon points="442.67,500.77 444.09,502.30 446.17,502.22 446.09,504.31 447.62,505.72 446.09,507.14 446.17,509.22 444.09,509.14 442.67,510.67 441.26,509.14 439.17,509.22 439.25,507.14 437.72,505.72 439.25,504.31 439.17,502.22 441.26,502.30"/>
<polygon points="443.25,499.82 444.67,501.35 446.75,501.27 446.67,503.35 448.20,504.77 446.67,506.18 446.75,508.27 444.67,508.19 443.25,509.72 441.83,508.19 439.75,508.27 439.83,506.18 438.30,504.77 439.83,503.35 439.75,501.27 441.83,501.35"/>
<polygon points="443.84,499.27 445.25,500.80 447.34,500.72 447.25,502.81 448.79,504.22 447.25,505.64 447.34,507.72 445.25,507.64 443.84,509.17 442.42,507.64 440.34,507.72 440.42,505.64 438.89,504.22 440.42,502.81 440.34,500.72 442.42,500.80"/>
<polygon points="444.43,498.72 445.85,500.25 447.93,500.17 447.85,502.25 449.38,503.67 447.85,505.08 447.93,507.17 445.85,507.09 444.43,508.62 443.01,507.09 440.93,507.17 441.01,505.08 439.48,503.67 441.01,502.25 440.93,500.17 443.01,500.25"/>
<polygon points="445.03,490.60 446.45,492.13 448.53,492.05 448.45,494.14 449.98,495.55 448.45,496.97 448.53,499.05 446.45,498.97 445.03,500.50 443.62,498.97 441.53,499.05 441.62,496.97 440.08,495.55 441.62,494.14 441.53,492.05 443.62,492.13"/>
<polygon points="445.64,489.74 447.06,491.27 449.15,491.19 449.06,493.28 450.59,494.69 449.06,496.11 449.15,498.19 447.06,498.11 445.64,499.64 444.23,498.11 442.14,498.19 442.23,496.11 440.69,494.69 442.23,493.28 442.14,491.19 444.23,491.27"/>
<polygon points="446.27,488.87 447.68,490.40 449.77,490.32 449.68,492.40 451.22,493.82 449.68,495.24 449.77,497.32 447.68,497.24 446.27,498.77 444.85,497.24 442.76,497.32 442.85,495.24 441.32,493.82 442.85,492.40 442.76,490.32 444.85,490.40"/>
<polygon points="446.89,487.66 448.31,489.19 450.39,489.11 450.31,491.19 451.84,492.61 450.31,494.03 450.39,496.11 448.31,496.03 446.89,497.56 445.48,496.03 443.39,496.11 443.48,494.03 441.94,492.61 443.48,491.19 443.39,489.11 445.48,489.19"/>
<polygon points="447.53,486.33 448.95,487.86 451.03,487.78 450.95,489.86 452.48,491.28 450.95,492.69 451.03,494.78 448.95,494.70 447.53,496.23 446.12,494.70 444.03,494.78 444.11,492.69 442.58,491.28 444.11,489.86 444.03,487.78 446.12,487.86"/>
<polygon points="448.18,484.98 449.60,486.51 451.68,486.43 451.60,488.51 453.13,489.93 451.60,491.34 451.68,493.43 449.60,493.34 448.18,494.88 446.76,493.34 444.68,493.43 444.76,491.34 443.23,489.93 444.76,488.51 444.68,486.43 446.76,486.51"/>
<polygon points="448.84,483.60 450.25,485.14 452.34,485.05 452.26,487.14 453.79,488.55 452.26,489.97 452.34,492.05 450.25,491.97 448.84,493.50 447.42,491.97 445.34,492.05 445.42,489.97 443.89,488.55 445.42,487.14 445.34,485.05 447.42,485.14"/>
<polygon points="449.51,482.21 450.92,483.74 453.01,483.66 452.93,485.74 454.46,487.16 452.93,488.58 453.01,490.66 450.92,490.58 449.51,492.11 448.09,490.58 446.01,490.66 446.09,488.58 444.56,487.16 446.09,485.74 446.01,483.66 448.09,483.74"/>
<polygon points="450.19,480.79 451.60,482.33 453.69,482.24 453.60,484.33 455.14,485.74 453.60,487.16 453.69,489.24 451.60,489.16 450.19,490.69 448.77,489.16 446.69,489.24 446.77,487.16 445.24,485.74 446.77,484.33 446.69,482.24 448.77,482.33"/>
<polygon points="450.88,479.25 452.29,480.78 454.38,480.70 454.29,482.78 455.83,484.20 454.29,485.61 454.38,487.70 452.29,487.61 450.88,489.15 449.46,487.61 447.38,487.70 447.46,485.61 445.93,484.20 447.46,482.78 447.38,480.70 449.46,480.78"/>
<polygon points="451.58,477.39 452.99,478.92 455.08,478.84 454.99,480.92 456.53,482.34 454.99,483.75 455.08,485.84 452.99,485.75 451.58,487.29 450.16,485.75 448.08,485.84 448.16,483.75 446.63,482.34 448.16,480.92 448.08,478.84 450.16,478.92"/>
<polygon points="452.29,475.49 453.70,477.03 455.79,476.94 455.71,479.03 457.24,480.44 455.71,481.86 455.79,483.94 453.70,483.86 452.29,485.39 450.87,483.86 448.79,483.94 448.87,481.86 447.34,480.44 448.87,479.03 448.79,476.94 450.87,477.03"/>
<polygon points="453.01,473.57 454.43,475.10 456.51,475.02 456.43,477.10 457.96,478.52 456.43,479.94 456.51,482.02 454.43,481.94 453.01,483.47 451.60,481.94 449.51,482.02 449.59,479.94 448.06,478.52 449.59,477.10 449.51,475.02 451.60,475.10"/>
<polygon points="453.75,471.61 455.17,473.15 457.25,473.06 457.17,475.15 458.70,476.56 457.17,477.98 457.25,480.06 455.17,479.98 453.75,481.51 452.33,479.98 450.25,480.06 450.33,477.98 448.80,476.56 450.33,475.15 450.25,473.06 452.33,473.15"/>
<polygon points="454.50,469.62 455.92,471.16 458.00,471.07 457.92,473.16 459.45,474.57 457.92,475.99 458.00,478.07 455.92,477.99 454.50,479.52 453.08,477.99 451.00,478.07 451.08,475.99 449.55,474.57 451.08,473.16 451.00,471.07 453.08,471.16"/>
<polygon points="455.26,467.73 456.68,469.26 458.76,469.18 458.68,471.27 460.21,472.68 458.68,474.10 458.76,476.18 456.68,476.10 455.26,477.63 453.85,476.10 451.76,476.18 451.84,474.10 450.31,472.68 451.84,471.27 451.76,469.18 453.85,469.26"/>
<polygon points="456.04,465.96 457.45,467.49 459.54,467.41 459.46,469.49 460.99,470.91 459.46,472.33 459.54,474.41 457.45,474.33 456.04,475.86 454.62,474.33 452.54,474.41 452.62,472.33 451.09,470.91 452.62,469.49 452.54,467.41 454.62,467.49"/>
<polygon points="456.83,464.15 458.25,465.69 460.33,465.60 460.25,467.69 461.78,469.10 460.25,470.52 460.33,472.60 458.25,472.52 456.83,474.05 455.41,472.52 453.33,472.60 453.41,470.52 451.88,469.10 453.41,467.69 453.33,465.60 455.41,465.69"/>
<polygon points="457.64,462.32 459.05,463.85 461.14,463.77 461.05,465.85 462.59,467.27 461.05,468.68 461.14,470.77 459.05,470.68 457.64,472.22 456.22,470.68 454.14,470.77 454.22,468.68 452.69,467.27 454.22,465.85 454.14,463.77 456.22,463.85"/>
<polygon points="458.46,460.44 459.87,461.97 461.96,461.89 461.87,463.98 463.41,465.39 461.87,466.81 461.96,468.89 459.87,468.81 458.46,470.34 457.04,468.81 454.96,468.89 455.04,466.81 453.51,465.39 455.04,463.98 454.96,461.89 457.04,461.97"/>
<polygon points="459.29,458.53 460.71,460.06 462.79,459.98 462.71,462.07 464.24,463.48 462.71,464.90 462.79,466.98 460.71,466.90 459.29,468.43 457.88,466.90 455.79,466.98 455.87,464.90 454.34,463.48 455.87,462.07 455.79,459.98 457.88,460.06"/>
<polygon points="460.15,456.66 461.56,458.19 463.65,458.11 463.57,460.19 465.10,461.61 463.57,463.03 463.65,465.11 461.56,465.03 460.15,466.56 458.73,465.03 456.65,465.11 456.73,463.03 455.20,461.61 456.73,460.19 456.65,458.11 458.73,458.19"/>
<polygon points="461.02,454.88 462.43,456.41 464.52,456.33 464.44,458.41 465.97,459.83 464.44,461.24 464.52,463.33 462.43,463.24 461.02,464.78 459.60,463.24 457.52,463.33 457.60,461.24 456.07,459.83 457.60,458.41 457.52,456.33 459.60,456.41"/>
<polygon points="461.91,453.06 463.32,454.59 465.41,454.51 465.32,456.59 466.86,458.01 465.32,459.42 465.41,461.51 463.32,461.42 461.91,462.96 460.49,461.42 458.41,461.51 458.49,459.42 456.96,458.01 458.49,456.59 458.41,454.51 460.49,454.59"/>
<polygon points="462.81,451.20 464.23,452.73 466.31,452.65 466.23,454.73 467.76,456.15 466.23,457.56 466.31,459.65 464.23,459.57 462.81,461.10 461.40,459.57 459.31,459.65 459.40,457.56 457.86,456.15 459.40,454.73 459.31,452.65 461.40,452.73"/>
<polygon points="463.74,449.30 465.16,450.83 467.24,450.75 467.16,452.83 468.69,454.25 467.16,455.66 467.24,457.75 465.16,457.67 463.74,459.20 462.32,457.67 460.24,457.75 460.32,455.66 458.79,454.25 460.32,452.83 460.24,450.75 462.32,450.83"/>
<polygon points="464.69,447.36 466.10,448.89 468.19,448.81 468.11,450.89 469.64,452.31 468.11,453.72 468.19,455.81 466.10,455.73 464.69,457.26 463.27,455.73 461.19,455.81 461.27,453.72 459.74,452.31 461.27,450.89 461.19,448.81 463.27,448.89"/>
<polygon points="465.66,445.57 467.07,447.10 469.16,447.02 469.07,449.10 470.61,450.52 469.07,451.93 469.16,454.02 467.07,453.93 465.66,455.47 464.24,453.93 462.16,454.02 462.24,451.93 460.71,450.52 462.24,449.10 462.16,447.02 464.24,447.10"/>
<polygon points="466.65,443.96 468.06,445.49 470.15,445.41 470.07,447.49 471.60,448.91 470.07,450.33 470.15,452.41 468.06,452.33 466.65,453.86 465.23,452.33 463.15,452.41 463.23,450.33 461.70,448.91 463.23,447.49 463.15,445.41 465.23,445.49"/>
<polygon points="467.66,442.32 469.08,443.85 471.16,443.77 471.08,445.85 472.61,447.27 471.08,448.68 471.16,450.77 469.08,450.69 467.66,452.22 466.25,450.69 464.16,450.77 464.24,448.68 462.71,447.27 464.24,445.85 464.16,443.77 466.25,443.85"/>
<polygon points="468.70,440.63 470.12,442.17 472.20,442.08 472.12,444.17 473.65,445.58 472.12,447.00 472.20,449.08 470.12,449.00 468.70,450.53 467.28,449.00 465.20,449.08 465.28,447.00 463.75,445.58 465.28,444.17 465.20,442.08 467.28,442.17"/>
<polygon points="469.76,438.91 471.18,440.44 473.26,440.36 473.18,442.44 474.71,443.86 473.18,445.28 473.26,447.36 471.18,447.28 469.76,448.81 468.35,447.28 466.26,447.36 466.35,445.28 464.81,443.86 466.35,442.44 466.26,440.36 468.35,440.44"/>
<polygon points="470.86,437.15 472.27,438.68 474.36,438.60 474.27,440.68 475.81,442.10 474.27,443.51 474.36,445.60 472.27,445.51 470.86,447.05 469.44,445.51 467.36,445.60 467.44,443.51 465.91,442.10 467.44,440.68 467.36,438.60 469.44,438.68"/>
<polygon points="471.98,435.43 473.39,436.96 475.48,436.88 475.39,438.96 476.93,440.38 475.39,441.79 475.48,443.88 473.39,443.80 471.98,445.33 470.56,443.80 468.47,443.88 468.56,441.79 467.03,440.38 468.56,438.96 468.47,436.88 470.56,436.96"/>
<polygon points="473.12,433.66 474.54,435.20 476.62,435.11 476.54,437.20 478.07,438.61 476.54,440.03 476.62,442.11 474.54,442.03 473.12,443.56 471.71,442.03 469.62,442.11 469.71,440.03 468.17,438.61 469.71,437.20 469.62,435.11 471.71,435.20"/>
<polygon points="474.31,431.85 475.72,433.38 477.81,433.30 477.72,435.38 479.26,436.80 477.72,438.22 477.81,440.30 475.72,440.22 474.31,441.75 472.89,440.22 470.81,440.30 470.89,438.22 469.36,436.80 470.89,435.38 470.81,433.30 472.89,433.38"/>
<polygon points="475.52,429.99 476.94,431.52 479.02,431.44 478.94,433.52 480.47,434.94 478.94,436.35 479.02,438.44 476.94,438.36 475.52,439.89 474.10,438.36 472.02,438.44 472.10,436.35 470.57,434.94 472.10,433.52 472.02,431.44 474.10,431.52"/>
<polygon points="476.77,427.82 478.18,429.35 480.27,429.27 480.19,431.36 481.72,432.77 480.19,434.19 480.27,436.27 478.18,436.19 476.77,437.72 475.35,436.19 473.27,436.27 473.35,434.19 471.82,432.77 473.35,431.36 473.27,429.27 475.35,429.35"/>
<polygon points="478.06,425.56 479.47,427.09 481.56,427.01 481.47,429.09 483.01,430.51 481.47,431.92 481.56,434.01 479.47,433.93 478.06,435.46 476.64,433.93 474.56,434.01 474.64,431.92 473.11,430.51 474.64,429.09 474.56,427.01 476.64,427.09"/>
<polygon points="479.38,423.64 480.80,425.17 482.88,425.09 482.80,427.17 484.33,428.59 482.80,430.00 482.88,432.09 480.80,432.01 479.38,433.54 477.97,432.01 475.88,432.09 475.96,430.00 474.43,428.59 475.96,427.17 475.88,425.09 477.97,425.17"/>
<polygon points="480.75,421.97 482.17,423.50 484.25,423.42 484.17,425.50 485.70,426.92 484.17,428.34 484.25,430.42 482.17,430.34 480.75,431.87 479.33,430.34 477.25,430.42 477.33,428.34 475.80,426.92 477.33,425.50 477.25,423.42 479.33,423.50"/>
<polygon points="482.16,420.25 483.58,421.78 485.66,421.70 485.58,423.78 487.11,425.20 485.58,426.61 485.66,428.70 483.58,428.62 482.16,430.15 480.75,428.62 478.66,428.70 478.75,426.61 477.21,425.20 478.75,423.78 478.66,421.70 480.75,421.78"/>
<polygon points="483.62,418.98 485.04,420.52 487.12,420.43 487.04,422.52 488.57,423.93 487.04,425.35 487.12,427.43 485.04,427.35 483.62,428.88 482.21,427.35 480.12,427.43 480.21,425.35 478.67,423.93 480.21,422.52 480.12,420.43 482.21,420.52"/>
<polygon points="485.14,417.69 486.55,419.22 488.64,419.14 488.56,421.22 490.09,422.64 488.56,424.05 488.64,426.14 486.55,426.05 485.14,427.59 483.72,426.05 481.64,426.14 481.72,424.05 480.19,422.64 481.72,421.22 481.64,419.14 483.72,419.22"/>
<polygon points="486.70,415.83 488.12,417.36 490.20,417.28 490.12,419.36 491.65,420.78 490.12,422.20 490.20,424.28 488.12,424.20 486.70,425.73 485.29,424.20 483.20,424.28 483.29,422.20 481.75,420.78 483.29,419.36 483.20,417.28 485.29,417.36"/>
<polygon points="488.33,413.92 489.75,415.45 491.83,415.37 491.75,417.46 493.28,418.87 491.75,420.29 491.83,422.37 489.75,422.29 488.33,423.82 486.92,422.29 484.83,422.37 484.91,420.29 483.38,418.87 484.91,417.46 484.83,415.37 486.92,415.45"/>
<polygon points="490.02,412.33 491.44,413.86 493.52,413.78 493.44,415.86 494.97,417.28 493.44,418.69 493.52,420.78 491.44,420.69 490.02,422.23 488.61,420.69 486.52,420.78 486.60,418.69 485.07,417.28 486.60,415.86 486.52,413.78 488.61,413.86"/>
<polygon points="491.78,409.47 493.20,411.01 495.28,410.92 495.20,413.01 496.73,414.42 495.20,415.84 495.28,417.92 493.20,417.84 491.78,419.37 490.36,417.84 488.28,417.92 488.36,415.84 486.83,414.42 488.36,413.01 488.28,410.92 490.36,411.01"/>
<polygon points="493.62,405.19 495.03,406.72 497.12,406.64 497.03,408.72 498.57,410.14 497.03,411.55 497.12,413.64 495.03,413.56 493.62,415.09 492.20,413.56 490.12,413.64 490.20,411.55 488.67,410.14 490.20,408.72 490.12,406.64 492.20,406.72"/>
<polygon points="495.53,401.12 496.95,402.65 499.03,402.57 498.95,404.65 500.48,406.07 498.95,407.49 499.03,409.57 496.95,409.49 495.53,411.02 494.12,409.49 492.03,409.57 492.11,407.49 490.58,406.07 492.11,404.65 492.03,402.57 494.12,402.65"/>
<polygon points="497.54,397.06 498.95,398.59 501.04,398.51 500.95,400.60 502.49,402.01 500.95,403.43 501.04,405.51 498.95,405.43 497.54,406.96 496.12,405.43 494.04,405.51 494.12,403.43 492.59,402.01 494.12,400.60 494.04,398.51 496.12,398.59"/>
<polygon points="499.64,394.03 501.05,395.56 503.14,395.48 503.06,397.56 504.59,398.98 503.06,400.39 503.14,402.48 501.05,402.40 499.64,403.93 498.22,402.40 496.14,402.48 496.22,400.39 494.69,398.98 496.22,397.56 496.14,395.48 498.22,395.56"/>
<polygon points="501.85,390.98 503.27,392.51 505.35,392.43 505.27,394.52 506.80,395.93 505.27,397.35 505.35,399.43 503.27,399.35 501.85,400.88 500.43,399.35 498.35,399.43 498.43,397.35 496.90,395.93 498.43,394.52 498.35,392.43 500.43,392.51"/>
<polygon points="504.18,388.39 505.60,389.92 507.68,389.84 507.60,391.92 509.13,393.34 507.60,394.75 507.68,396.84 505.60,396.75 504.18,398.29 502.76,396.75 500.68,396.84 500.76,394.75 499.23,393.34 500.76,391.92 500.68,389.84 502.76,389.92"/>
<polygon points="506.64,384.75 508.06,386.28 510.14,386.20 510.06,388.28 511.59,389.70 510.06,391.12 510.14,393.20 508.06,393.12 506.64,394.65 505.23,393.12 503.14,393.20 503.23,391.12 501.69,389.70 503.23,388.28 503.14,386.20 505.23,386.28"/>
<polygon points="509.26,383.05 510.67,384.58 512.76,384.50 512.67,386.58 514.21,388.00 512.67,389.42 512.76,391.50 510.67,391.42 509.26,392.95 507.84,391.42 505.76,391.50 505.84,389.42 504.31,388.00 505.84,386.58 505.76,384.50 507.84,384.58"/>
<polygon points="512.04,381.35 513.45,382.88 515.54,382.80 515.46,384.88 516.99,386.30 515.46,387.72 515.54,389.80 513.45,389.72 512.04,391.25 510.62,389.72 508.54,389.80 508.62,387.72 507.09,386.30 508.62,384.88 508.54,382.80 510.62,382.88"/>
<polygon points="515.01,378.55 516.43,380.08 518.51,380.00 518.43,382.08 519.96,383.50 518.43,384.92 518.51,387.00 516.43,386.92 515.01,388.45 513.60,386.92 511.51,387.00 511.59,384.92 510.06,383.50 511.59,382.08 511.51,380.00 513.60,380.08"/>
<polygon points="518.21,374.55 519.62,376.08 521.71,376.00 521.62,378.08 523.16,379.50 521.62,380.92 521.71,383.00 519.62,382.92 518.21,384.45 516.79,382.92 514.71,383.00 514.79,380.92 513.26,379.50 514.79,378.08 514.71,376.00 516.79,376.08"/>
<polygon points="521.66,354.65 523.07,356.18 525.16,356.10 525.07,358.18 526.61,359.60 525.07,361.02 525.16,363.10 523.07,363.02 521.66,364.55 520.24,363.02 518.16,363.10 518.24,361.02 516.71,359.60 518.24,358.18 518.16,356.10 520.24,356.18"/>
<polygon points="525.41,351.65 526.82,353.18 528.91,353.10 528.82,355.18 530.36,356.60 528.82,358.02 528.91,360.10 526.82,360.02 525.41,361.55 523.99,360.02 521.91,360.10 521.99,358.02 520.46,356.60 521.99,355.18 521.91,353.10 523.99,353.18"/>
<polygon points="529.51,346.35 530.93,347.88 533.01,347.80 532.93,349.88 534.46,351.30 532.93,352.72 533.01,354.80 530.93,354.72 529.51,356.25 528.10,354.72 526.01,354.80 526.10,352.72 524.56,351.30 526.10,349.88 526.01,347.80 528.10,347.88"/>
<polygon points="534.05,328.05 535.47,329.58 537.55,329.50 537.47,331.58 539.00,333.00 537.47,334.42 537.55,336.50 535.47,336.42 534.05,337.95 532.64,336.42 530.55,336.50 530.64,334.42 529.10,333.00 530.64,331.58 530.55,329.50 532.64,329.58"/>
<polygon points="539.13,297.45 540.55,298.98 542.63,298.90 542.55,300.98 544.08,302.40 542.55,303.82 542.63,305.90 540.55,305.82 539.13,307.35 537.72,305.82 535.63,305.90 535.71,303.82 534.18,302.40 535.71,300.98 535.63,298.90 537.72,298.98"/>
<polygon points="544.89,262.25 546.30,263.78 548.39,263.70 548.30,265.78 549.84,267.20 548.30,268.62 548.39,270.70 546.30,270.62 544.89,272.15 543.47,270.62 541.39,270.70 541.47,268.62 539.94,267.20 541.47,265.78 541.39,263.70 543.47,263.78"/>
<polygon points="551.53,237.35 552.95,238.88 555.03,238.80 554.95,240.88 556.48,242.30 554.95,243.72 555.03,245.80 552.95,245.72 551.53,247.25 550.11,245.72 548.03,245.80 548.11,243.72 546.58,242.30 548.11,240.88 548.03,238.80 550.11,238.88"/>
<polygon points="559.39,193.85 560.80,195.38 562.89,195.30 562.81,197.38 564.34,198.80 562.81,200.22 562.89,202.30 560.80,202.22 559.39,203.75 557.97,202.22 555.89,202.30 555.97,200.22 554.44,198.80 555.97,197.38 555.89,195.30 557.97,195.38"/>
<polygon points="569.01,172.15 570.42,173.68 572.51,173.60 572.42,175.68 573.96,177.10 572.42,178.52 572.51,180.60 570.42,180.52 569.01,182.05 567.59,180.52 565.51,180.60 565.59,178.52 564.06,177.10 565.59,175.68 565.51,173.60 567.59,173.68"/>
<polygon points="581.40,151.35 582.82,152.88 584.91,152.80 584.82,154.88 586.35,156.30 584.82,157.72 584.91,159.80 582.82,159.72 581.40,161.25 579.99,159.72 577.90,159.80 577.99,157.72 576.45,156.30 577.99,154.88 577.90,152.80 579.99,152.88"/>
<polygon points="598.88,130.85 600.30,132.38 602.38,132.30 602.30,134.38 603.83,135.80 602.30,137.22 602.38,139.30 600.30,139.22 598.88,140.75 597.46,139.22 595.38,139.30 595.46,137.22 593.93,135.80 595.46,134.38 595.38,132.30 597.46,132.38"/>
<polygon points="628.76,65.35 630.17,66.88 632.26,66.80 632.17,68.88 633.71,70.30 632.17,71.72 632.26,73.80 630.17,73.72 628.76,75.25 627.34,73.72 625.25,73.80 625.34,71.72 623.81,70.30 625.34,68.88 625.25,66.80 627.34,66.88"/>
</g>
<clipPath id="cr"><rect x="426.4" y="52.3" width="210.20000000000005" height="488.8"/></clipPath>
<line class="cy" clip-path="url(#cr)" x1="411.85" y1="568.10" x2="670.45" y2="34.10"/>
<rect class="ax" x="426.4" y="52.3" width="210.2" height="488.8"/>
<line class="ax" x1="433.40" y1="541.1" x2="433.40" y2="551.9"/>
<text class="a" x="433.40" y="580.4">0</text>
<line class="ax" x1="476.50" y1="541.1" x2="476.50" y2="551.9"/>
<text class="a" x="476.50" y="580.4">1</text>
<line class="ax" x1="519.60" y1="541.1" x2="519.60" y2="551.9"/>
<text class="a" x="519.60" y="580.4">2</text>
<line class="ax" x1="562.70" y1="541.1" x2="562.70" y2="551.9"/>
<text class="a" x="562.70" y="580.4">3</text>
<line class="ax" x1="605.80" y1="541.1" x2="605.80" y2="551.9"/>
<text class="a" x="605.80" y="580.4">4</text>
<line class="ax" x1="426.4" y1="523.60" x2="415.59999999999997" y2="523.60"/>
<text class="a" transform="translate(400.6,523.60) rotate(-90)">0</text>
<line class="ax" x1="426.4" y1="434.60" x2="415.59999999999997" y2="434.60"/>
<text class="a" transform="translate(400.6,434.60) rotate(-90)">1</text>
<line class="ax" x1="426.4" y1="345.60" x2="415.59999999999997" y2="345.60"/>
<text class="a" transform="translate(400.6,345.60) rotate(-90)">2</text>
<line class="ax" x1="426.4" y1="256.60" x2="415.59999999999997" y2="256.60"/>
<text class="a" transform="translate(400.6,256.60) rotate(-90)">3</text>
<line class="ax" x1="426.4" y1="167.60" x2="415.59999999999997" y2="167.60"/>
<text class="a" transform="translate(400.6,167.60) rotate(-90)">4</text>
<line class="ax" x1="426.4" y1="78.60" x2="415.59999999999997" y2="78.60"/>
<text class="a" transform="translate(400.6,78.60) rotate(-90)">5</text>
<text class="a" x="531.5" y="622.9">model</text>
<text class="a" transform="translate(357.3,296.7) rotate(-90)">empirical</text>
</svg></body></html>
